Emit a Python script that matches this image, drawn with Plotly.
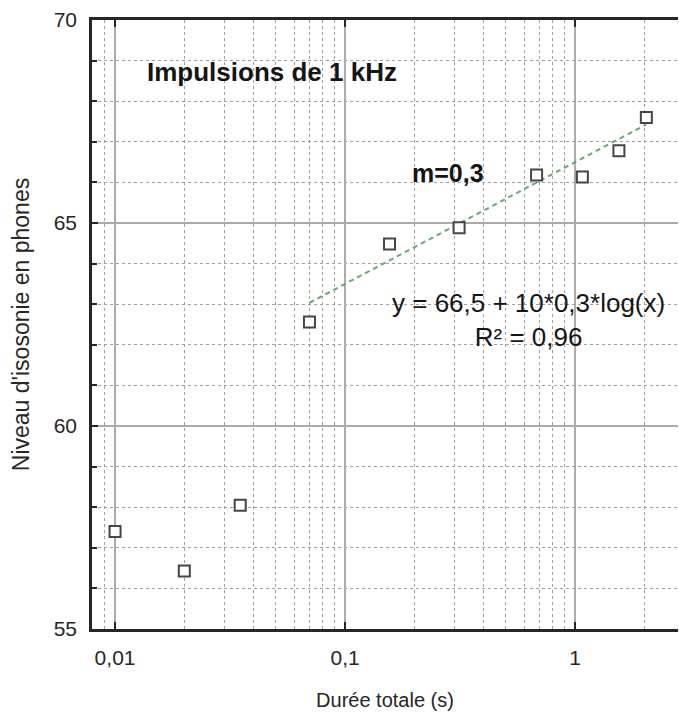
import math
import plotly.graph_objects as go

# Loudness level of 1 kHz tone bursts versus total duration
durations = [0.01, 0.02, 0.035, 0.07, 0.156, 0.313, 0.68, 1.075, 1.55, 2.04]
levels = [57.4, 56.43, 58.05, 62.56, 64.48, 64.88, 66.18, 66.13, 66.78, 67.6]

# Logarithmic fit y = a + 10*m*log10(x), drawn over the long-duration points
fit_a = 66.5
fit_m = 0.3
fit_x = [0.07, 2.04]
fit_y = [fit_a + 10 * fit_m * math.log10(v) for v in fit_x]

x_tickvals = [0.01, 0.1, 1]
x_ticktext = ["0,01", "0,1", "1"]
y_tickvals = [55, 60, 65, 70]
y_ticktext = ["55", "60", "65", "70"]

x_min, x_max = 0.00794, 2.8
y_min, y_max = 55, 70

# minor log gridlines at 2..9 of each decade
minor_x = [k * 10 ** d for d in (-3, -2, -1, 0) for k in range(2, 10)
           if x_min < k * 10 ** d < x_max]

FONT = "Liberation Sans, Arial, sans-serif"
INK = "#262626"

fig = go.Figure()

fig.add_trace(go.Scatter(
    x=fit_x, y=fit_y, mode="lines",
    line=dict(color="#62aa72", width=2, dash="5px,4px"),
    showlegend=False, hoverinfo="skip",
))

fig.add_trace(go.Scatter(
    x=durations, y=levels, mode="markers",
    marker=dict(symbol="square", size=11, color="white",
                line=dict(color="#454545", width=2)),
    showlegend=False,
))

fig.add_annotation(
    x=math.log10(0.0482), y=68.72, xref="x", yref="y",
    text="<b>Impulsions de 1 kHz</b>", showarrow=False,
    font=dict(family=FONT, size=26, color="#151515"),
)
fig.add_annotation(
    x=math.log10(0.281), y=66.23, xref="x", yref="y",
    text="<b>m=0,3</b>", showarrow=False,
    font=dict(family=FONT, size=25, color="#151515"),
)
fig.add_annotation(
    x=math.log10(0.625), y=62.6, xref="x", yref="y",
    text="y = 66,5 + 10*0,3*log(x)<br>R² = 0,96", showarrow=False,
    align="center",
    font=dict(family=FONT, size=26, color="#151515"),
)

fig.update_xaxes(
    type="log",
    range=[math.log10(x_min), math.log10(x_max)],
    tickmode="array", tickvals=x_tickvals, ticktext=x_ticktext,
    tickfont=dict(family=FONT, size=21, color=INK),
    ticks="inside", ticklen=7, tickwidth=2, tickcolor=INK,
    ticklabelstandoff=8,
    showline=True, linecolor=INK, linewidth=2.5, mirror="ticks",
    showgrid=True, gridcolor="#ababab", gridwidth=1.5,
    minor=dict(tickmode="array", tickvals=minor_x, showgrid=True,
               gridcolor="#a0a0a0", griddash="dot", gridwidth=1, ticks=""),
    title=dict(text="Durée totale (s)", standoff=26,
               font=dict(family=FONT, size=20, color=INK)),
    zeroline=False,
)

fig.update_yaxes(
    range=[y_min, y_max],
    tickmode="array", tickvals=y_tickvals, ticktext=y_ticktext,
    tickfont=dict(family=FONT, size=21, color=INK),
    ticks="inside", ticklen=6, tickwidth=2, tickcolor=INK,
    ticklabelstandoff=8,
    showline=True, linecolor=INK, linewidth=2.5, mirror=False,
    showgrid=True, gridcolor="#ababab", gridwidth=1.5,
    minor=dict(dtick=1, showgrid=True, gridcolor="#a0a0a0",
               griddash="dot", gridwidth=1, ticks="inside", ticklen=5,
               tickcolor=INK),
    title=dict(text="Niveau d'isosonie en phones", standoff=18,
               font=dict(family=FONT, size=23, color=INK)),
    zeroline=False,
)

fig.update_layout(
    width=679, height=713,
    margin=dict(l=92, r=1, t=20, b=84, autoexpand=False),
    paper_bgcolor="white", plot_bgcolor="white",
    font=dict(family=FONT, color=INK),
)

fig.write_html("out.html")
